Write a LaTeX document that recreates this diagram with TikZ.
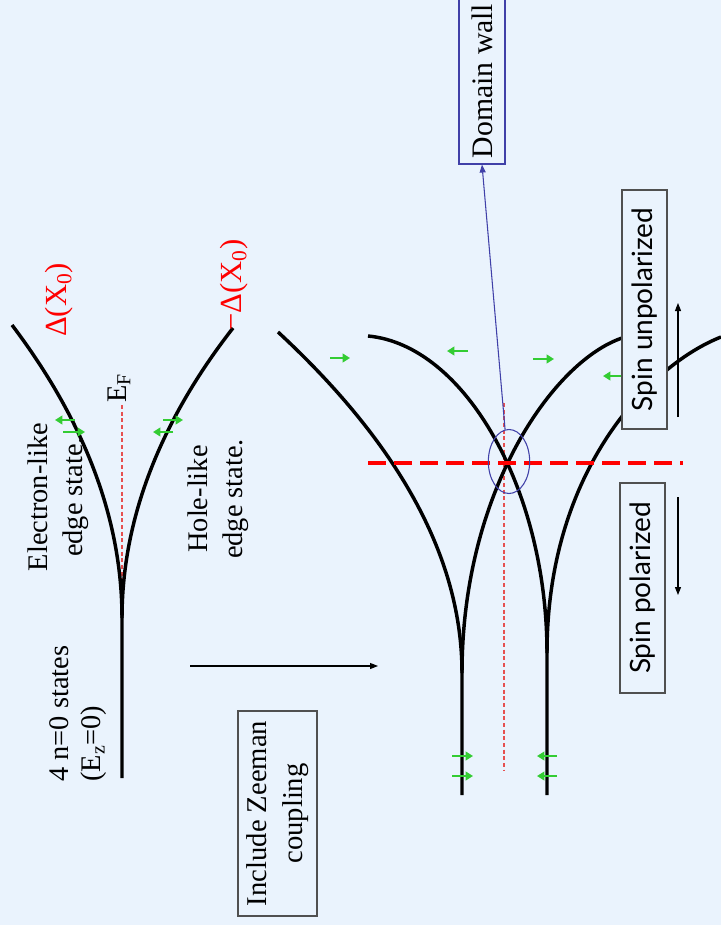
\documentclass[tikz,border=0pt]{standalone}
\usepackage{fontspec}
\setmainfont{Liberation Serif}
\newfontfamily\spinfont{Lato}
\usetikzlibrary{arrows.meta,shapes.geometric}
\definecolor{bg}{RGB}{234,243,253}
\definecolor{gr}{RGB}{51,204,51}
\definecolor{dwblue}{RGB}{64,64,168}
\definecolor{boxgray}{RGB}{80,80,80}
\definecolor{dotred}{RGB}{230,80,80}
\begin{document}
\begin{tikzpicture}[x=0.75pt,y=-0.75pt,
  band/.style={line width=2.6pt},
  garrow/.style={draw=gr, line width=1.4pt, -{Triangle[length=5.5pt,width=6.5pt]}},
  thinarrow/.style={draw=black, line width=0.8pt, -{Triangle[length=6pt,width=4.5pt]}},
  txt/.style={font=\fontsize{21.3}{26}\selectfont, rotate=90, inner sep=0pt, align=center},
  redtxt/.style={rotate=90, inner sep=0pt, text=red, font=\fontsize{23}{28}\selectfont},
  labelbox/.style={draw=boxgray, line width=0.8pt, fill=bg, rotate=90, inner sep=0pt, align=center},
  dotline/.style={draw=dotred, line width=0.8pt, dash pattern=on 3pt off 2pt}]
\fill[bg] (0,0) rectangle (721,925);
\useasboundingbox (0,0) rectangle (721,925);

% first diagram
\draw[dotline] (122,405) -- (122,618);
\draw[band] (122,778) -- (122,618) .. controls (122,520) and (85.3,422) .. (12,325);
\draw[band] (122,618) .. controls (122,520) and (159.7,422) .. (233,328);
\draw[garrow] (75,420) -- (55,420);
\draw[garrow] (63,432) -- (85,432);
\draw[garrow] (163,420) -- (183,420);
\draw[garrow] (173,432) -- (153,432);

\node[txt] (elec) at (58,497) {Electron-like\\edge state.};
\node[txt] (hole) at (218,499) {Hole-like\\edge state.};
\node[txt, align=left, anchor=west, font=\fontsize{21.3}{24}\selectfont] (nzero) at (78,782) {4 n=0 states\\(E\textsubscript{z}=0)};
\node[txt] (ef) at (119,388) {E\textsubscript{F}};
\node[redtxt] (dp) at (59,300) {Δ(X\textsubscript{0})};
\node[redtxt] (dm) at (234,285) {−Δ(X\textsubscript{0})};

% transition arrow and Zeeman box
\coordinate (ma) at (190,666);
\coordinate (mb) at (378,666);
\draw[thinarrow] (ma) -- (mb);
\node[labelbox, minimum width=153.75pt, minimum height=59.25pt, font=\fontsize{21.5}{27.5}\selectfont] (zee) at (277.5,813.5) {Include Zeeman\\coupling};

% second diagram
\draw[dotline] (504,403) -- (504,770);
\draw[band] (462,795) -- (462,673) .. controls (462,559.3) and (400.7,445.7) .. (278,332);
\draw[band] (462,673) .. controls (462,493) and (552,362) .. (622,338);
\draw[band] (547,795) -- (547,653) .. controls (547,490) and (465,345) .. (368,336);
\draw[band] (547,653) .. controls (547,470) and (650,365) .. (721,337);
\draw[red, line width=2.3pt, dash pattern=on 13.5pt off 6pt] (368,463) -- (683,463);

\draw[garrow] (452,756) -- (473,756);
\draw[garrow] (452,776) -- (473,776);
\draw[garrow] (557,756) -- (537,756);
\draw[garrow] (557,776) -- (537,776);
\draw[garrow] (330,358) -- (350,358);
\draw[garrow] (468,351) -- (447,351);
\draw[garrow] (533,359) -- (554,359);
\draw[garrow] (622,376) -- (603,376);

\node[ellipse, draw=dwblue, line width=0.8pt, minimum width=31pt, minimum height=48pt, inner sep=0pt] (ell) at (509,461.5) {};
\node[labelbox, draw=dwblue, minimum width=124.5pt, minimum height=34.5pt, font=\fontsize{22.3}{27}\selectfont] (dw) at (482,81) {Domain wall};
\draw[dwblue, line width=0.8pt, -{Triangle[length=6pt,width=4.5pt]}] (ell.97) -- (dw.west);

\node[labelbox, minimum width=179.25pt, minimum height=33.75pt, font=\spinfont\fontsize{21}{26}\selectfont] (su) at (644.5,309.5) {Spin unpolarized};
\node[labelbox, minimum width=157.5pt, minimum height=33.75pt, font=\spinfont\fontsize{21}{26}\selectfont] (sp) at (642.5,588) {Spin polarized};
\coordinate (sua) at (678,417);
\coordinate (sub) at (678,303);
\draw[thinarrow] (sua) -- (sub);
\coordinate (spa) at (678,497);
\coordinate (spb) at (678,595);
\draw[thinarrow] (spa) -- (spb);
\end{tikzpicture}
\end{document}
